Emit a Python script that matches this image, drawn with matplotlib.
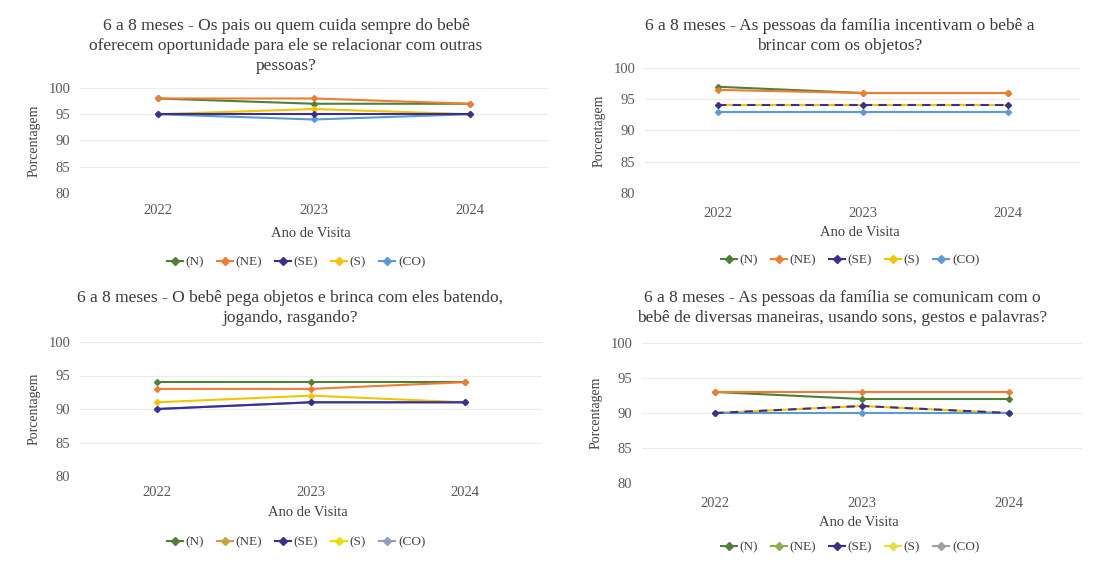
import numpy as np
import matplotlib
matplotlib.use("Agg")
import matplotlib.pyplot as plt
from matplotlib.lines import Line2D

plt.rcParams['font.family'] = ['Liberation Serif', 'DejaVu Serif']

YEARS = ["2022", "2023", "2024"]
REGIONS = ["(N)", "(NE)", "(SE)", "(S)", "(CO)"]
COLORS = ["#4f7f3a", "#ed7d31", "#3b2f8f", "#f2c500", "#5b9bd5"]

TITLES = [
    "6 a 8 meses - Os pais ou quem cuida sempre do bebê\noferecem oportunidade para ele se relacionar com outras\npessoas?",
    "6 a 8 meses - As pessoas da família incentivam o bebê a\nbrincar com os objetos?",
    "6 a 8 meses - O bebê pega objetos e brinca com eles batendo,\njogando, rasgando?",
    "6 a 8 meses - As pessoas da família se comunicam com o\nbebê de diversas maneiras, usando sons, gestos e palavras?",
]

# values per region (N, NE, SE, S, CO) for 2022-2024
relacionar = [[98, 97, 97], [98, 98, 97], [95, 95, 95], [95, 96, 95], [95, 94, 95]]
brincar = [[97, 96, 96], [96.5, 96, 96], [94, 94, 94], [94, 94, 94], [93, 93, 93]]
pega_objetos = [[94, 94, 94], [93, 93, 94], [90, 91, 91], [91, 92, 91], [90, 91, 91]]
comunicam = [[93, 92, 92], [93, 93, 93], [90, 91, 90], [90, 91, 90], [90, 90, 90]]
DATA = [relacionar, brincar, pega_objetos, comunicam]

# legend colours differ slightly in the 3rd/4th panels of the original
LEG_COLORS = [
    COLORS,
    COLORS,
    ["#4f7f3a", "#c9a040", "#3b2f8f", "#e8e000", "#8ea0c0"],
    ["#4f7f3a", "#8cb050", "#3b2f8f", "#e0e040", "#a0a0a0"],
]
DASHED_SE = [False, True, False, True]

W, H = 1115, 565
# axes boxes in pixels: left, top, right, bottom
BOXES = [(80, 88, 548, 193), (645, 68, 1080, 193), (80, 342, 542, 476), (642, 343, 1082, 483)]
TITLE_X = [286, 840, 290, 842]
TITLE_Y = [18, 18, 290, 290]
TICK_Y = [208, 210, 490, 500]
XLAB_Y = [233, 232, 513, 522]
LEG_Y = [262, 260, 542, 547]
LEG_X = [296, 850, 296, 850]

fig = plt.figure(figsize=(W / 100, H / 100), dpi=100)

for k in range(4):
    l, t, r, b = BOXES[k]
    ax = fig.add_axes([l / W, 1 - b / H, (r - l) / W, (b - t) / H])
    x = np.arange(len(YEARS))
    for i, reg in enumerate(REGIONS):
        ls = (0, (4, 3)) if (reg == "(SE)" and DASHED_SE[k]) else "-"
        ax.plot(x, DATA[k][i], color=COLORS[i], lw=1.5, ls=ls,
                marker="D", ms=3, zorder=3 + (1 if reg == "(SE)" else 0))
    ax.set_xlim(-0.5, 2.5)
    ax.set_ylim(80, 100)
    ax.set_yticks([80, 85, 90, 95, 100])
    ax.yaxis.grid(True, color="#ebebeb", lw=0.8)
    ax.set_axisbelow(True)
    for s in ax.spines.values():
        s.set_visible(False)
    ax.tick_params(length=0, labelsize=10.5, colors="#595959")
    ax.tick_params(axis="y", pad=7)
    ax.set_xticks(x)
    ax.set_xticklabels(YEARS)
    ax.tick_params(axis="x", pad=(TICK_Y[k] - b) - 7)
    ax.set_ylabel("Porcentagem", fontsize=10, color="#404040", labelpad=6)
    fig.text(TITLE_X[k] / W, 1 - TITLE_Y[k] / H, TITLES[k], ha="center", va="top",
             fontsize=12.5, color="#3a3a3a", linespacing=1.32)
    fig.text(((l + r) / 2 - 3) / W, 1 - XLAB_Y[k] / H, "Ano de Visita",
             ha="center", va="center", fontsize=10.5, color="#404040")
    handles = [Line2D([0], [0], color=LEG_COLORS[k][i], lw=1.5, marker="D", ms=4)
               for i in range(len(REGIONS))]
    fig.legend(handles, REGIONS, loc="center", ncol=5, frameon=False,
               bbox_to_anchor=(LEG_X[k] / W, 1 - LEG_Y[k] / H),
               fontsize=9.5, handlelength=1.2, handletextpad=0.2, columnspacing=1.0,
               labelcolor="#404040")

fig.savefig("out.png", dpi=100)
